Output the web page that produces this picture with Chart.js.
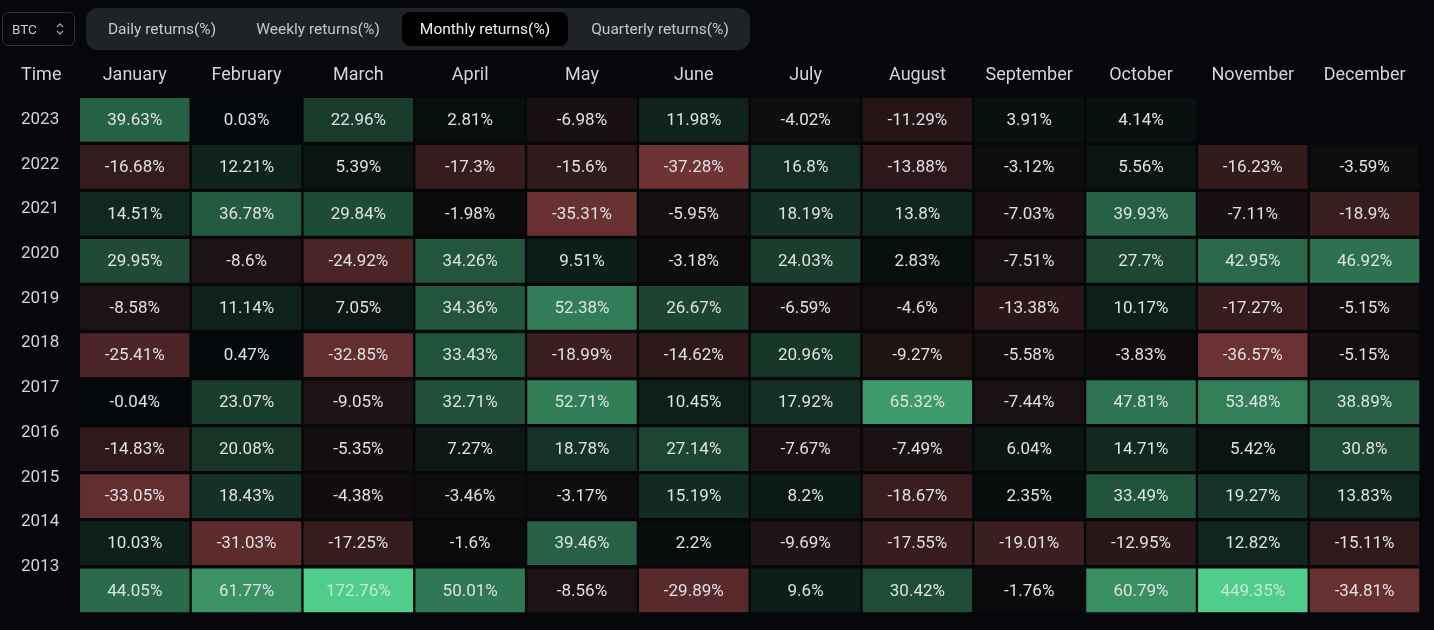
<!DOCTYPE html>
<html>
<head>
<meta charset="utf-8">
<title>BTC monthly returns</title>
<script src="https://cdn.jsdelivr.net/npm/chart.js@4.4.1/dist/chart.umd.min.js"></script>
<style>
  html, body { margin: 0; padding: 0; background: #05070a; }
  body { width: 1434px; height: 630px; position: relative; overflow: hidden; font-family: Roboto, sans-serif; }
  #wrap { position: absolute; left: 0; top: 0; width: 1434px; height: 630px; }
  .asset { position: absolute; left: 2px; top: 12px; width: 73px; height: 34px; box-sizing: border-box;
           border: 1px solid #2a2e35; border-radius: 6px; color: #c6c9ce; font-size: 13.5px; line-height: 32px; padding-left: 9px; }
  .asset svg { position: absolute; left: 51px; top: 8px; }
  .tabs { position: absolute; left: 86px; top: 8px; width: 664px; height: 42px; background: #1f2227; border-radius: 12px; }
  .active { position: absolute; left: 402px; top: 12px; width: 166px; height: 34px; background: #000; border-radius: 8px; }
  .tab { position: absolute; top: 8px; height: 42px; line-height: 42px; font-size: 15.5px; color: #c4c8ce; transform: translateX(-50%); white-space: nowrap; }
  .tab.on { color: #eceef0; }
  .time { position: absolute; left: 21px; top: 63px; height: 22px; line-height: 22px; font-size: 18px; color: #d3d5d8; }
</style>
</head>
<body>
<div id="wrap"><canvas id="heat"></canvas></div>
<div class="asset">BTC
  <svg width="12" height="16" viewBox="0 0 12 16"><path d="M3 6 L6 3 L9 6 M3 10 L6 13 L9 10" fill="none" stroke="#9a9ea5" stroke-width="1.4"/></svg>
</div>
<div class="tabs"></div>
<div class="active"></div>
<div class="tab" style="left:162px">Daily returns(%)</div>
<div class="tab" style="left:318px">Weekly returns(%)</div>
<div class="tab on" style="left:485px">Monthly returns(%)</div>
<div class="tab" style="left:660px">Quarterly returns(%)</div>
<div class="time">Time</div>
<script>
const months = ["January", "February", "March", "April", "May", "June",
  "July", "August", "September", "October", "November", "December"];
const years = ["2023", "2022", "2021", "2020", "2019", "2018", "2017", "2016", "2015", "2014", "2013"];

// monthly returns in %, January .. December
const r2023 = [39.63, 0.03, 22.96, 2.81, -6.98, 11.98, -4.02, -11.29, 3.91, 4.14, null, null];
const r2022 = [-16.68, 12.21, 5.39, -17.3, -15.6, -37.28, 16.8, -13.88, -3.12, 5.56, -16.23, -3.59];
const r2021 = [14.51, 36.78, 29.84, -1.98, -35.31, -5.95, 18.19, 13.8, -7.03, 39.93, -7.11, -18.9];
const r2020 = [29.95, -8.6, -24.92, 34.26, 9.51, -3.18, 24.03, 2.83, -7.51, 27.7, 42.95, 46.92];
const r2019 = [-8.58, 11.14, 7.05, 34.36, 52.38, 26.67, -6.59, -4.6, -13.38, 10.17, -17.27, -5.15];
const r2018 = [-25.41, 0.47, -32.85, 33.43, -18.99, -14.62, 20.96, -9.27, -5.58, -3.83, -36.57, -5.15];
const r2017 = [-0.04, 23.07, -9.05, 32.71, 52.71, 10.45, 17.92, 65.32, -7.44, 47.81, 53.48, 38.89];
const r2016 = [-14.83, 20.08, -5.35, 7.27, 18.78, 27.14, -7.67, -7.49, 6.04, 14.71, 5.42, 30.8];
const r2015 = [-33.05, 18.43, -4.38, -3.46, -3.17, 15.19, 8.2, -18.67, 2.35, 33.49, 19.27, 13.83];
const r2014 = [10.03, -31.03, -17.25, -1.6, 39.46, 2.2, -9.69, -17.55, -19.01, -12.95, 12.82, -15.11];
const r2013 = [44.05, 61.77, 172.76, 50.01, -8.56, -29.89, 9.6, 30.42, -1.76, 60.79, 449.35, -34.81];

const rows = [r2023, r2022, r2021, r2020, r2019, r2018, r2017, r2016, r2015, r2014, r2013];

// colour ramp: background -> full colour, saturating at CAP %
const CAP = 88;
const BG = [5, 8, 10];
const UP = [80, 205, 139];
const DOWN = [253, 109, 109];

function cellColor(v) {
  const t = Math.min(Math.abs(v) / CAP, 1);
  const end = v >= 0 ? UP : DOWN;
  const c = BG.map((b, i) => Math.round(b + (end[i] - b) * t));
  return `rgb(${c[0]},${c[1]},${c[2]})`;
}

const cells = [];
rows.forEach((row, r) => {
  row.forEach((v, m) => {
    if (v === null) return;
    cells.push({x: months[m], y: [r - 0.465, r + 0.465], v: v});
  });
});

const cellLabels = {
  id: "cellLabels",
  afterDatasetsDraw(chart) {
    const ctx = chart.ctx;
    const meta = chart.getDatasetMeta(0);
    ctx.save();
    ctx.font = "400 17px Roboto";
    ctx.textAlign = "center";
    ctx.textBaseline = "middle";
    meta.data.forEach((bar, i) => {
      const v = cells[i].v;
      const p = bar.getCenterPoint();
      ctx.fillStyle = Math.abs(v) >= CAP ? "rgba(226,242,233,0.78)" : "#dfe1e4";
      ctx.fillText(v + "%", p.x, p.y + 1);
    });
    ctx.restore();
  },
};

Chart.defaults.font.family = "Roboto";

new Chart(document.getElementById("heat"), {
  type: "bar",
  data: {
    labels: months,
    datasets: [{
      data: cells,
      backgroundColor: (c) => c.raw ? cellColor(c.raw.v) : "transparent",
      borderWidth: 0,
      borderSkipped: false,
      barPercentage: 0.979,
      categoryPercentage: 1,
    }],
  },
  options: {
    responsive: true,
    maintainAspectRatio: false,
    animation: false,
    devicePixelRatio: 1,
    layout: { padding: { top: 52, left: 21, right: 13.5, bottom: 16.2 } },
    plugins: { legend: { display: false }, tooltip: { enabled: false } },
    scales: {
      x: {
        type: "category",
        position: "top",
        grid: { display: false, drawTicks: false },
        border: { display: false },
        ticks: { color: "#d3d5d8", font: { size: 18 }, padding: 10, maxRotation: 0, autoSkip: false },
        afterFit: (s) => { s.height = 44.25; },
      },
      y: { type: "linear", display: false, min: -0.5, max: 10.5, reverse: true },
      years: {
        type: "linear",
        position: "left",
        min: -0.5196,
        max: 11.046,
        reverse: true,
        grid: { display: false, drawTicks: false },
        border: { display: false },
        afterBuildTicks: (s) => { s.ticks = years.map((y, i) => ({ value: i })); },
        ticks: { color: "#d3d5d8", font: { size: 17 }, padding: 0, crossAlign: "far", autoSkip: false, callback: (v) => years[v] },
        afterFit: (s) => { s.width = 57.85; },
      },
    },
  },
  plugins: [cellLabels],
});
</script>
</body>
</html>
